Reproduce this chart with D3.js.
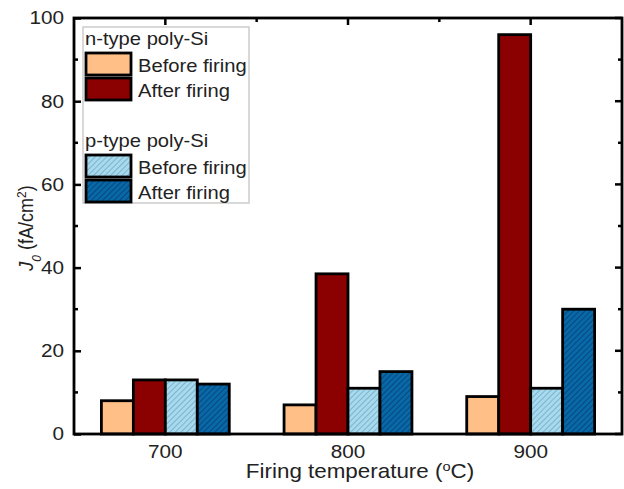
<!DOCTYPE html>
<html>
<head>
<meta charset="utf-8">
<script src="https://cdn.jsdelivr.net/npm/d3@7"></script>
<style>
  body { margin: 0; background: #fff; }
  svg { font-family: "Liberation Sans", Arial, sans-serif; }
</style>
</head>
<body>
<svg id="chart" width="624" height="489"></svg>
<script>
// data
let temps = ["700", "800", "900"];
let seriesNames = ["n before", "n after", "p before", "p after"];
let nBefore = [8, 7, 9];
let nAfter = [13, 38.5, 96];
let pBefore = [13, 11, 11];
let pAfter = [12, 15, 30];
let yTicks = [0, 20, 40, 60, 80, 100];

let seriesValues = [nBefore, nAfter, pBefore, pAfter];
let fills = ["#ffbf87", "#8b0000", "url(#hatchLight)", "url(#hatchDark)"];

// the original text looks a bit wider than it is tall
let stretch = 1.12;
function widen(sel) {
    sel.each(function () {
        let t = d3.select(this);
        let x = +t.attr('x') || 0, y = +t.attr('y') || 0;
        t.attr('x', 0).attr('y', 0)
            .attr('transform', `translate(${x},${y}) scale(${stretch},1)`);
    });
}

function init() {
    let margin = {top: 18, right: 2, bottom: 55, left: 74},
        width = 624 - margin.left - margin.right,
        height = 489 - margin.top - margin.bottom,
        svg = d3.select('#chart');

    let defs = svg.append('defs');
    let makeHatch = (id, bg, line) => {
        let p = defs.append('pattern')
            .attr('id', id)
            .attr('patternUnits', 'userSpaceOnUse')
            .attr('width', 4).attr('height', 4)
            .attr('patternTransform', 'rotate(45)');
        p.append('rect').attr('width', 4).attr('height', 4).attr('fill', bg);
        p.append('line').attr('x1', 0).attr('y1', 0).attr('x2', 0).attr('y2', 4)
            .attr('stroke', line).attr('stroke-width', 1.2);
    };
    makeHatch('hatchLight', '#a9d9ec', '#5a9cc0');
    makeHatch('hatchDark', '#0868a8', '#06335e');

    let g = svg.append('g').attr('transform', `translate(${margin.left},${margin.top})`);

    let x = d3.scaleBand().domain(temps).range([0, width]).paddingInner(0.3).paddingOuter(0.15);
    let xInner = d3.scaleBand().domain(seriesNames).range([0, x.bandwidth()]);
    let y = d3.scaleLinear().domain([0, 100]).range([height, 0]);

    // bars
    temps.forEach((t, i) => {
        seriesNames.forEach((s, j) => {
            g.append('rect')
                .attr('x', x(t) + xInner(s))
                .attr('y', y(seriesValues[j][i]))
                .attr('width', xInner.bandwidth())
                .attr('height', y(0) - y(seriesValues[j][i]))
                .attr('fill', fills[j])
                .attr('stroke', '#000')
                .attr('stroke-width', 2.8);
        });
    });

    // frame
    g.append('rect')
        .attr('width', width).attr('height', height)
        .attr('fill', 'none').attr('stroke', '#000').attr('stroke-width', 2.8);

    // y axis with inward ticks
    let minor = d3.range(10, 100, 20);
    let yAxis = d3.axisLeft(y).tickValues(yTicks).tickSize(-7).tickPadding(10);
    let ya = g.append('g').call(yAxis);
    ya.select('.domain').remove();
    ya.selectAll('line').attr('stroke-width', 2.5);
    ya.selectAll('text').attr('font-size', 18.5).attr('fill', '#222');
    ya.selectAll('text').each(function () {
        let t = d3.select(this);
        let xx = +t.attr('x') || 0;
        t.attr('x', 0).attr('transform', `translate(${xx},0) scale(${stretch},1)`);
    });
    minor.forEach(v => {
        g.append('line').attr('x1', 0).attr('x2', 4).attr('y1', y(v)).attr('y2', y(v))
            .attr('stroke', '#000').attr('stroke-width', 2.5);
        g.append('line').attr('x1', width).attr('x2', width - 4).attr('y1', y(v)).attr('y2', y(v))
            .attr('stroke', '#000').attr('stroke-width', 2.5);
    });
    yTicks.forEach(v => {
        g.append('line').attr('x1', width).attr('x2', width - 7).attr('y1', y(v)).attr('y2', y(v))
            .attr('stroke', '#000').attr('stroke-width', 2.5);
    });

    // x axis
    let xAxis = d3.axisBottom(x).tickSize(0).tickPadding(11);
    let xa = g.append('g').attr('transform', `translate(0,${height})`).call(xAxis);
    xa.select('.domain').remove();
    xa.selectAll('text').attr('font-size', 18.5).attr('fill', '#222');
    widen(xa.selectAll('text'));

    // top ticks at categories and between
    temps.forEach((t, i) => {
        let cx = x(t) + x.bandwidth() / 2;
        g.append('line').attr('x1', cx).attr('x2', cx).attr('y1', 0).attr('y2', 7)
            .attr('stroke', '#000').attr('stroke-width', 2.5);
        if (i < temps.length - 1) {
            let mx = cx + x.step() / 2;
            g.append('line').attr('x1', mx).attr('x2', mx).attr('y1', 0).attr('y2', 4)
                .attr('stroke', '#000').attr('stroke-width', 2.5);
        }
    });

    // axis titles
    let xt = svg.append('text')
        .attr('x', 360)
        .attr('y', 478)
        .attr('text-anchor', 'middle')
        .attr('font-size', 20).attr('fill', '#222')
        .text('Firing temperature (');
    xt.append('tspan').attr('baseline-shift', 'super').attr('font-size', 13).text('o');
    xt.append('tspan').text('C)');
    widen(xt);

    let yt = svg.append('text')
        .attr('transform', `translate(33,228) rotate(-90) scale(1,${stretch})`)
        .attr('text-anchor', 'middle')
        .attr('font-size', 18).attr('fill', '#222');
    yt.append('tspan').attr('font-style', 'italic').text('J');
    yt.append('tspan').attr('font-style', 'italic').attr('baseline-shift', 'sub').attr('font-size', 12).text('0');
    yt.append('tspan').text(' (fA/cm');
    yt.append('tspan').attr('baseline-shift', 'super').attr('font-size', 12).text('2');
    yt.append('tspan').text(')');

    // legend
    let lg = svg.append('g').attr('transform', 'translate(83,27)');
    lg.append('rect').attr('width', 166).attr('height', 176)
        .attr('fill', '#fff').attr('stroke', '#ccc').attr('stroke-width', 1.5);
    let groups = [
        {title: 'n-type poly-Si', y: 0, fills: [fills[0], fills[1]]},
        {title: 'p-type poly-Si', y: 102, fills: [fills[2], fills[3]]}
    ];
    groups.forEach(grp => {
        widen(lg.append('text').attr('x', 2).attr('y', grp.y + 18)
            .attr('font-size', 18).attr('fill', '#222').text(grp.title));
        ['Before firing', 'After firing'].forEach((lab, k) => {
            let yy = grp.y + 26 + k * 25;
            lg.append('rect').attr('x', 3).attr('y', yy).attr('width', 45).attr('height', 22)
                .attr('fill', grp.fills[k]).attr('stroke', '#000').attr('stroke-width', 2.8);
            widen(lg.append('text').attr('x', 55).attr('y', yy + 19)
                .attr('font-size', 18).attr('fill', '#222').text(lab));
        });
    });
}

init();
</script>
</body>
</html>
